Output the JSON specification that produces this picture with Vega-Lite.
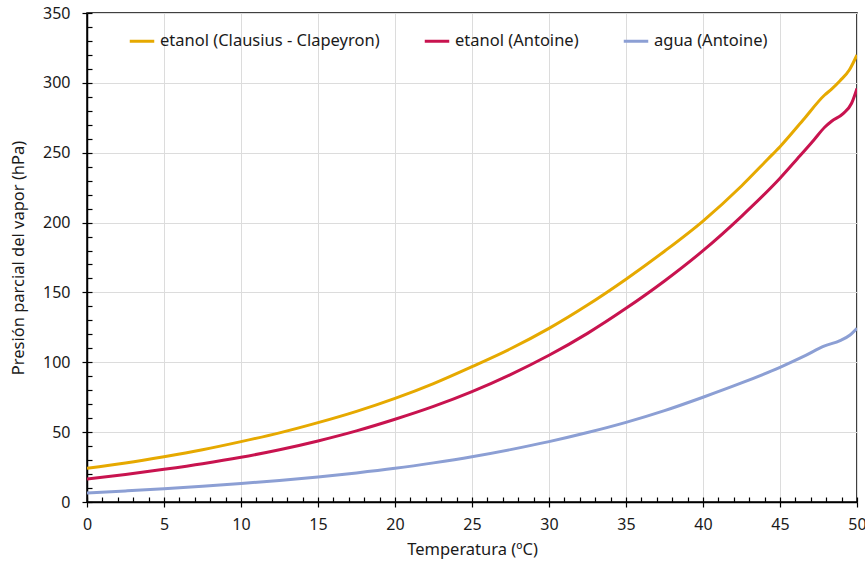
{
  "$schema": "https://vega.github.io/schema/vega-lite/v6.json",
  "width": 770,
  "height": 489,
  "autosize": {"type": "none"},
  "padding": {"left": 87, "top": 13, "right": 8, "bottom": 61},
  "config": {
    "font": "Noto Sans",
    "view": {"stroke": "#000000", "strokeWidth": 1.5},
    "axis": {
      "labelFont": "Noto Sans",
      "titleFont": "Noto Sans",
      "labelFontSize": 16,
      "titleFontSize": 16.5,
      "labelColor": "#1a1a1a",
      "titleColor": "#1a1a1a",
      "titleFontWeight": "normal",
      "domainColor": "#000000",
      "domainWidth": 1.5,
      "tickColor": "#000000",
      "tickWidth": 1.2,
      "gridColor": "#dcdcdc",
      "gridWidth": 1
    },
    "legend": {"labelFont": "Noto Sans", "labelFontSize": 16.5, "labelColor": "#1a1a1a", "labelLimit": 400}
  },
  "data": {
    "values": [
      {"serie": "etanol (Clausius - Clapeyron)", "t": 0, "p": 24.1},
      {"serie": "etanol (Clausius - Clapeyron)", "t": 2.5, "p": 27.9},
      {"serie": "etanol (Clausius - Clapeyron)", "t": 5, "p": 32.4},
      {"serie": "etanol (Clausius - Clapeyron)", "t": 7.5, "p": 37.4},
      {"serie": "etanol (Clausius - Clapeyron)", "t": 10, "p": 43.2},
      {"serie": "etanol (Clausius - Clapeyron)", "t": 12.5, "p": 49.5},
      {"serie": "etanol (Clausius - Clapeyron)", "t": 15, "p": 56.8},
      {"serie": "etanol (Clausius - Clapeyron)", "t": 17.5, "p": 64.9},
      {"serie": "etanol (Clausius - Clapeyron)", "t": 20, "p": 74.2},
      {"serie": "etanol (Clausius - Clapeyron)", "t": 22.5, "p": 84.8},
      {"serie": "etanol (Clausius - Clapeyron)", "t": 25, "p": 96.9},
      {"serie": "etanol (Clausius - Clapeyron)", "t": 27.5, "p": 109.7},
      {"serie": "etanol (Clausius - Clapeyron)", "t": 30, "p": 124.3},
      {"serie": "etanol (Clausius - Clapeyron)", "t": 32.5, "p": 141.0},
      {"serie": "etanol (Clausius - Clapeyron)", "t": 35, "p": 159.5},
      {"serie": "etanol (Clausius - Clapeyron)", "t": 37.5, "p": 179.5},
      {"serie": "etanol (Clausius - Clapeyron)", "t": 40, "p": 201.1},
      {"serie": "etanol (Clausius - Clapeyron)", "t": 42.5, "p": 226.2},
      {"serie": "etanol (Clausius - Clapeyron)", "t": 44.2, "p": 245.3},
      {"serie": "etanol (Clausius - Clapeyron)", "t": 45, "p": 254.3},
      {"serie": "etanol (Clausius - Clapeyron)", "t": 46.5, "p": 273.4},
      {"serie": "etanol (Clausius - Clapeyron)", "t": 47.9, "p": 291.3},
      {"serie": "etanol (Clausius - Clapeyron)", "t": 48.35, "p": 295.5},
      {"serie": "etanol (Clausius - Clapeyron)", "t": 48.9, "p": 301.5},
      {"serie": "etanol (Clausius - Clapeyron)", "t": 49.5, "p": 309.2},
      {"serie": "etanol (Clausius - Clapeyron)", "t": 50, "p": 320.0},
      {"serie": "etanol (Antoine)", "t": 0, "p": 16.5},
      {"serie": "etanol (Antoine)", "t": 2.5, "p": 19.7},
      {"serie": "etanol (Antoine)", "t": 5, "p": 23.4},
      {"serie": "etanol (Antoine)", "t": 7.5, "p": 27.4},
      {"serie": "etanol (Antoine)", "t": 10, "p": 32.0},
      {"serie": "etanol (Antoine)", "t": 12.5, "p": 37.4},
      {"serie": "etanol (Antoine)", "t": 15, "p": 43.7},
      {"serie": "etanol (Antoine)", "t": 17.5, "p": 50.9},
      {"serie": "etanol (Antoine)", "t": 20, "p": 59.2},
      {"serie": "etanol (Antoine)", "t": 22.5, "p": 68.4},
      {"serie": "etanol (Antoine)", "t": 25, "p": 79.0},
      {"serie": "etanol (Antoine)", "t": 27.5, "p": 91.2},
      {"serie": "etanol (Antoine)", "t": 30, "p": 105.0},
      {"serie": "etanol (Antoine)", "t": 32.5, "p": 120.7},
      {"serie": "etanol (Antoine)", "t": 35, "p": 138.6},
      {"serie": "etanol (Antoine)", "t": 37.5, "p": 158.2},
      {"serie": "etanol (Antoine)", "t": 40, "p": 179.9},
      {"serie": "etanol (Antoine)", "t": 42.5, "p": 204.5},
      {"serie": "etanol (Antoine)", "t": 45, "p": 231.7},
      {"serie": "etanol (Antoine)", "t": 46.1, "p": 245.3},
      {"serie": "etanol (Antoine)", "t": 47.2, "p": 259.1},
      {"serie": "etanol (Antoine)", "t": 47.9, "p": 268.2},
      {"serie": "etanol (Antoine)", "t": 48.35, "p": 272.5},
      {"serie": "etanol (Antoine)", "t": 49.1, "p": 278.0},
      {"serie": "etanol (Antoine)", "t": 49.65, "p": 285.4},
      {"serie": "etanol (Antoine)", "t": 50, "p": 296.0},
      {"serie": "agua (Antoine)", "t": 0, "p": 6.5},
      {"serie": "agua (Antoine)", "t": 2.5, "p": 7.9},
      {"serie": "agua (Antoine)", "t": 5, "p": 9.4},
      {"serie": "agua (Antoine)", "t": 7.5, "p": 11.2},
      {"serie": "agua (Antoine)", "t": 10, "p": 13.2},
      {"serie": "agua (Antoine)", "t": 12.5, "p": 15.4},
      {"serie": "agua (Antoine)", "t": 15, "p": 17.9},
      {"serie": "agua (Antoine)", "t": 17.5, "p": 20.8},
      {"serie": "agua (Antoine)", "t": 20, "p": 24.1},
      {"serie": "agua (Antoine)", "t": 22.5, "p": 28.0},
      {"serie": "agua (Antoine)", "t": 25, "p": 32.4},
      {"serie": "agua (Antoine)", "t": 27.5, "p": 37.5},
      {"serie": "agua (Antoine)", "t": 30, "p": 43.2},
      {"serie": "agua (Antoine)", "t": 32.5, "p": 49.7},
      {"serie": "agua (Antoine)", "t": 35, "p": 57.0},
      {"serie": "agua (Antoine)", "t": 37.5, "p": 65.4},
      {"serie": "agua (Antoine)", "t": 40, "p": 75.0},
      {"serie": "agua (Antoine)", "t": 42.5, "p": 85.2},
      {"serie": "agua (Antoine)", "t": 45, "p": 96.4},
      {"serie": "agua (Antoine)", "t": 46.5, "p": 104.0},
      {"serie": "agua (Antoine)", "t": 47.9, "p": 111.7},
      {"serie": "agua (Antoine)", "t": 48.9, "p": 115.5},
      {"serie": "agua (Antoine)", "t": 49.55, "p": 119.5},
      {"serie": "agua (Antoine)", "t": 50, "p": 124.3}
    ]
  },
  "layer": [
    {
      "mark": {"type": "line", "strokeWidth": 3, "interpolate": "monotone", "clip": true},
      "encoding": {
        "x": {
          "field": "t",
          "type": "quantitative",
          "scale": {"domain": [0, 50], "nice": false},
          "axis": {
            "orient": "bottom",
            "title": "Temperatura (ºC)",
            "values": [0, 5, 10, 15, 20, 25, 30, 35, 40, 45, 50],
            "tickSize": 5,
            "labelPadding": 9,
            "titlePadding": 9,
            "grid": true,
            "labelFlush": false,
            "labelOverlap": false
          }
        },
        "y": {
          "field": "p",
          "type": "quantitative",
          "scale": {"domain": [0, 350], "nice": false},
          "axis": {
            "orient": "left",
            "title": "Presión parcial del vapor (hPa)",
            "values": [0, 50, 100, 150, 200, 250, 300, 350],
            "tickSize": 5,
            "labelPadding": 12,
            "titlePadding": 16,
            "grid": true,
            "labelFlush": false,
            "labelOverlap": false
          }
        },
        "color": {
          "field": "serie",
          "type": "nominal",
          "sort": ["etanol (Clausius - Clapeyron)", "etanol (Antoine)", "agua (Antoine)"],
          "scale": {
            "domain": ["etanol (Clausius - Clapeyron)", "etanol (Antoine)", "agua (Antoine)"],
            "range": ["#e6a900", "#c8134f", "#8c9fd4"]
          },
          "legend": {
            "title": null,
            "orient": "none",
            "legendX": 41,
            "legendY": 14,
            "direction": "horizontal",
            "symbolType": "stroke",
            "symbolStrokeWidth": 3,
            "symbolSize": 600,
            "labelOffset": 4,
            "columnPadding": 38
          }
        }
      }
    },
    {
      "mark": {"type": "line", "opacity": 0},
      "encoding": {
        "x": {
          "field": "t",
          "type": "quantitative",
          "axis": {
            "orient": "bottom",
            "title": null,
            "labels": false,
            "domain": false,
            "grid": false,
            "tickSize": -5,
            "values": [0, 1, 2, 3, 4, 5, 6, 7, 8, 9, 10, 11, 12, 13, 14, 15, 16, 17, 18, 19, 20, 21, 22, 23, 24, 25, 26, 27, 28, 29, 30, 31, 32, 33, 34, 35, 36, 37, 38, 39, 40, 41, 42, 43, 44, 45, 46, 47, 48, 49, 50]
          }
        },
        "y": {
          "field": "p",
          "type": "quantitative",
          "axis": {
            "orient": "left",
            "title": null,
            "labels": false,
            "domain": false,
            "grid": false,
            "tickSize": -5,
            "values": [0, 10, 20, 30, 40, 50, 60, 70, 80, 90, 100, 110, 120, 130, 140, 150, 160, 170, 180, 190, 200, 210, 220, 230, 240, 250, 260, 270, 280, 290, 300, 310, 320, 330, 340, 350]
          }
        },
        "detail": {"field": "serie", "type": "nominal"}
      }
    }
  ],
  "resolve": {"axis": {"x": "independent", "y": "independent"}}
}
